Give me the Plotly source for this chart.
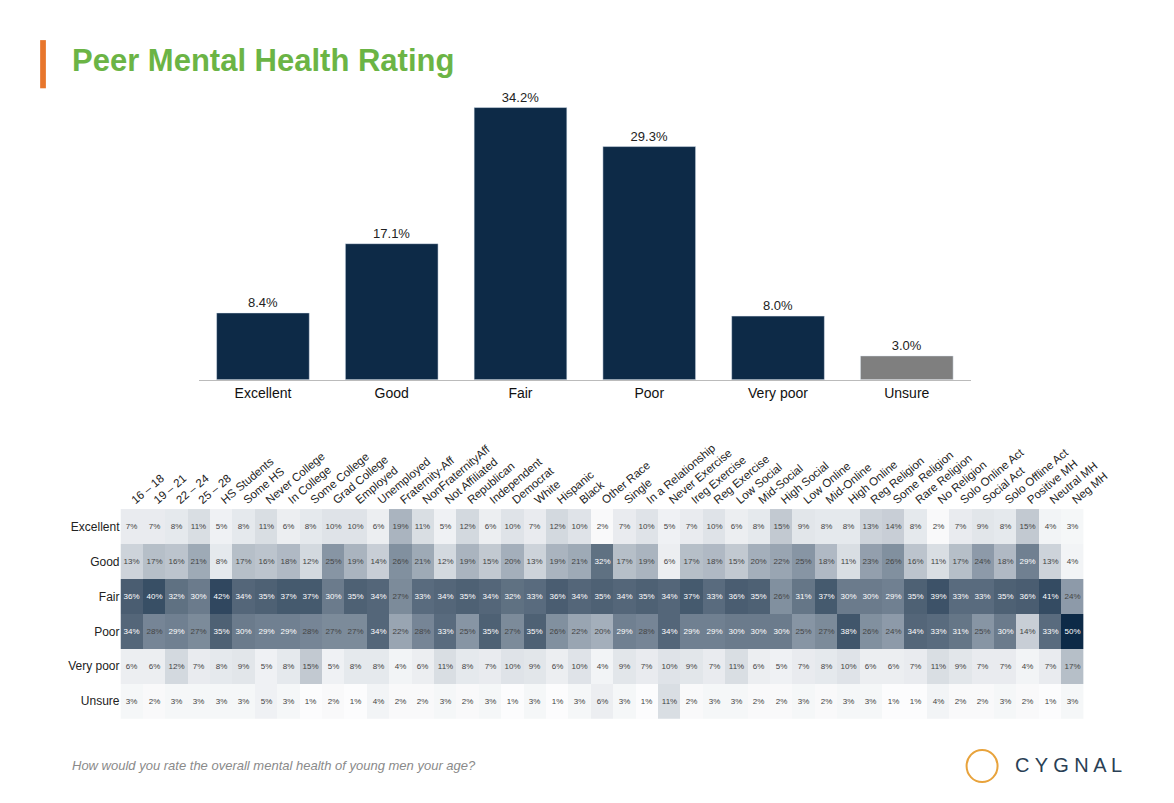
import plotly.graph_objects as go

bar_cats = ["Excellent", "Good", "Fair", "Poor", "Very poor", "Unsure"]
bar_vals = [8.4, 17.1, 34.2, 29.3, 8.0, 3.0]

cols = ["16 – 18", "19 – 21", "22 – 24", "25 – 28", "HS Students", "Some HS", "Never College", "In College",
        "Some College", "Grad College", "Employed", "Unemployed", "Fraternity-Aff", "NonFraternityAff",
        "Not Affiliated", "Republican", "Independent", "Democrat", "White", "Hispanic", "Black", "Other Race",
        "Single", "In a Relationship", "Never Exercise", "Ireg Exercise", "Reg Exercise", "Low Social",
        "Mid-Social", "High Social", "Low Online", "Mid-Online", "High Online", "Reg Religion", "Some Religion",
        "Rare Religion", "No Religion", "Solo Online Act", "Social Act", "Solo Offline Act", "Positive MH",
        "Neutral MH", "Neg MH"]
rows = ["Excellent", "Good", "Fair", "Poor", "Very poor", "Unsure"]
excellent = [7,7,8,11,5,8,11,6,8,10,10,6,19,11,5,12,6,10,7,12,10,2,7,10,5,7,10,6,8,15,9,8,8,13,14,8,2,7,9,8,15,4,3]
good = [13,17,16,21,8,17,16,18,12,25,19,14,26,21,12,19,15,20,13,19,21,32,17,19,6,17,18,15,20,22,25,18,11,23,26,16,11,17,24,18,29,13,4]
fair = [36,40,32,30,42,34,35,37,37,30,35,34,27,33,34,35,34,32,33,36,34,35,34,35,34,37,33,36,35,26,31,37,30,30,29,35,39,33,33,35,36,41,24]
poor = [34,28,29,27,35,30,29,29,28,27,27,34,22,28,33,25,35,27,35,26,22,20,29,28,34,29,29,30,30,30,25,27,38,26,24,34,33,31,25,30,14,33,50]
very_poor = [6,6,12,7,8,9,5,8,15,5,8,8,4,6,11,8,7,10,9,6,10,4,9,7,10,9,7,11,6,5,7,8,10,6,6,7,11,9,7,7,4,7,17]
unsure = [3,2,3,3,3,3,5,3,1,2,1,4,2,2,3,2,3,1,3,1,3,6,3,1,11,2,3,3,2,2,3,2,3,3,1,1,4,2,2,3,2,1,3]

z = [excellent, good, fair, poor, very_poor, unsure]
text = [[f"{v}%" for v in r] for r in z]

NAVY = "#0d2a47"
fig = go.Figure()
fig.add_trace(go.Bar(x=bar_cats, y=bar_vals,
                     marker_color=[NAVY]*5 + ["#7f7f7f"], width=0.72,
                     text=[f"{v:.1f}%" for v in bar_vals], textposition="outside",
                     textfont=dict(size=13, color="#222"), cliponaxis=False,
                     xaxis="x", yaxis="y", showlegend=False))
fig.add_trace(go.Heatmap(z=z, x=cols, y=rows, text=text, texttemplate="%{text}",
                         textfont=dict(size=8),
                         colorscale=[[0, "#ffffff"], [0.2, "#dfe3e8"], [0.5, "#8795a4"], [0.7, "#4e6174"], [1, NAVY]],
                         zmin=0, zmax=50, showscale=False, xgap=0, ygap=0,
                         xaxis="x2", yaxis="y2"))

fig.update_layout(
    width=1174, height=803, margin=dict(l=0, r=0, t=0, b=0),
    paper_bgcolor="white", plot_bgcolor="white",
    font=dict(family="Arial, Liberation Sans, sans-serif"),
    xaxis=dict(domain=[0.166, 0.839], anchor="y", showline=True, linecolor="#bbb",
               tickfont=dict(size=14, color="#111"), ticks=""),
    yaxis=dict(domain=[0.537, 0.878], range=[0, 34.4], visible=False),
    xaxis2=dict(domain=[0.098, 0.937], anchor="y2", side="top", tickangle=-40,
                tickfont=dict(size=11.5, color="#222"), ticks="", showgrid=False),
    yaxis2=dict(domain=[0.115, 0.376], anchor="x2", autorange="reversed",
                tickfont=dict(size=12, color="#222"), ticks="", showgrid=False),
    shapes=[dict(type="rect", xref="paper", yref="paper", x0=0.028, x1=0.033, y0=0.9, y1=0.96,
                 fillcolor="#e8762c", line_width=0),
            dict(type="circle", xref="paper", yref="paper", x0=0.835, x1=0.862, y0=0.036, y1=0.076,
                 line=dict(color="#e8a33c", width=2))],
    annotations=[
        dict(text="<b>Peer Mental Health Rating</b>", xref="paper", yref="paper", x=0.054, y=0.935,
             xanchor="left", yanchor="middle", showarrow=False, font=dict(size=31, color="#6bb445")),
        dict(text="<i>How would you rate the overall mental health of young men your age?</i>",
             xref="paper", yref="paper", x=0.054, y=0.057, xanchor="left", yanchor="middle",
             showarrow=False, font=dict(size=13, color="#8a8a8a")),
        dict(text="C Y G N A L", xref="paper", yref="paper", x=0.972, y=0.057, xanchor="right",
             yanchor="middle", showarrow=False, font=dict(size=20, color="#2a3f55")),
    ],
)
fig.write_html("out.html")
